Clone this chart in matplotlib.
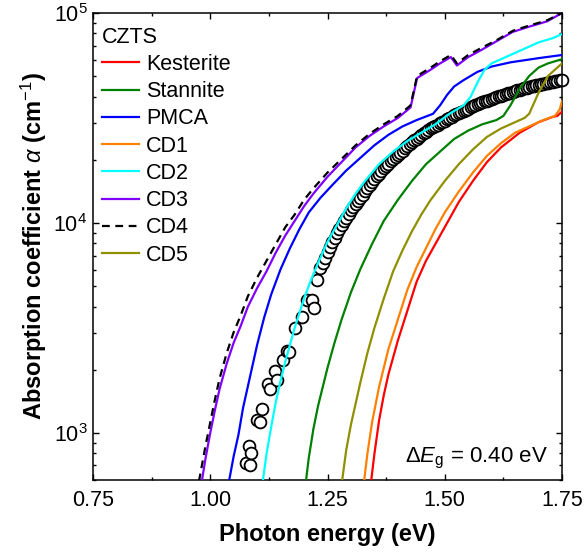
import numpy as np
import matplotlib.pyplot as plt
from matplotlib.ticker import MultipleLocator, LogLocator

plt.rcParams['font.family'] = ['Liberation Sans', 'DejaVu Sans']
plt.rcParams['mathtext.fontset'] = 'custom'
plt.rcParams['mathtext.rm'] = 'Liberation Sans'
plt.rcParams['mathtext.it'] = 'Liberation Sans:italic'
plt.rcParams['mathtext.bf'] = 'Liberation Sans:bold'

# values, alpha stored as log10(alpha / cm^-1)
kest_E = [1.343, 1.35, 1.36, 1.37, 1.38, 1.39, 1.40, 1.42, 1.44, 1.46, 1.48, 1.50, 1.53,
          1.56, 1.59, 1.62, 1.66, 1.70, 1.73, 1.74, 1.75]
kest_log = [2.77, 2.90, 3.06, 3.18, 3.28, 3.36, 3.44, 3.58, 3.72, 3.82, 3.90, 3.98, 4.10,
            4.20, 4.29, 4.36, 4.43, 4.48, 4.505, 4.51, 4.53]

stan_E = [1.204, 1.21, 1.22, 1.23, 1.24, 1.25, 1.265, 1.28, 1.30, 1.32, 1.345, 1.37, 1.40,
          1.43, 1.46, 1.49, 1.52, 1.55, 1.58, 1.61, 1.625, 1.64, 1.66, 1.68, 1.70, 1.72, 1.75]
stan_log = [2.77, 2.88, 3.02, 3.13, 3.22, 3.31, 3.43, 3.54, 3.67, 3.78, 3.90, 4.01, 4.11,
            4.20, 4.28, 4.34, 4.40, 4.44, 4.47, 4.49, 4.51, 4.56, 4.64, 4.70, 4.74, 4.76, 4.78]

pmca_E = [1.040, 1.05, 1.06, 1.07, 1.08, 1.09, 1.10, 1.115, 1.13, 1.15, 1.17, 1.19, 1.21,
          1.235, 1.26, 1.29, 1.32, 1.35, 1.38, 1.41, 1.44, 1.475, 1.49, 1.505, 1.52, 1.54,
          1.57, 1.60, 1.64, 1.70, 1.75]
pmca_log = [2.77, 2.89, 2.99, 3.12, 3.22, 3.32, 3.42, 3.55, 3.66, 3.78, 3.88, 3.97, 4.05,
            4.12, 4.18, 4.25, 4.31, 4.37, 4.42, 4.46, 4.49, 4.52, 4.56, 4.61, 4.65, 4.68,
            4.72, 4.745, 4.765, 4.785, 4.80]

cd1_E = [1.328, 1.335, 1.345, 1.36, 1.38, 1.40, 1.42, 1.44, 1.46, 1.48, 1.50, 1.53, 1.56,
         1.59, 1.62, 1.65, 1.68, 1.71, 1.735, 1.745, 1.75]
cd1_log = [2.77, 2.90, 3.05, 3.22, 3.40, 3.54, 3.68, 3.79, 3.88, 3.97, 4.05, 4.15, 4.24,
           4.32, 4.38, 4.43, 4.46, 4.49, 4.51, 4.54, 4.58]

cd2_E = [1.112, 1.12, 1.13, 1.14, 1.15, 1.16, 1.17, 1.18, 1.19, 1.20, 1.215, 1.23, 1.25,
         1.27, 1.29, 1.31, 1.33, 1.36, 1.39, 1.42, 1.45, 1.48, 1.51, 1.54, 1.555, 1.57,
         1.585, 1.60, 1.63, 1.66, 1.70, 1.73, 1.75]
cd2_log = [2.77, 2.90, 3.03, 3.15, 3.25, 3.34, 3.42, 3.50, 3.57, 3.64, 3.73, 3.81, 3.91,
           3.99, 4.07, 4.14, 4.20, 4.28, 4.34, 4.39, 4.43, 4.47, 4.52, 4.56, 4.60, 4.67,
           4.73, 4.76, 4.79, 4.82, 4.86, 4.88, 4.90]

cd3_E = [0.982, 0.99, 1.00, 1.01, 1.02, 1.035, 1.05, 1.065, 1.08, 1.10, 1.12, 1.14, 1.16,
         1.18, 1.20, 1.22, 1.25, 1.28, 1.31, 1.34, 1.37, 1.40, 1.427, 1.441, 1.47, 1.49,
         1.513, 1.526, 1.55, 1.575, 1.61, 1.645, 1.68, 1.718, 1.75]
cd3_log = [2.77, 2.88, 3.00, 3.11, 3.21, 3.33, 3.43, 3.51, 3.60, 3.69, 3.77, 3.86, 3.94,
           4.01, 4.08, 4.14, 4.22, 4.29, 4.36, 4.415, 4.46, 4.50, 4.55, 4.69, 4.73, 4.76,
           4.79, 4.75, 4.79, 4.82, 4.865, 4.91, 4.935, 4.96, 5.00]

cd4_E = [0.976, 0.99, 1.00, 1.01, 1.02, 1.035, 1.05, 1.065, 1.08, 1.10, 1.12, 1.14, 1.16,
         1.18, 1.20, 1.22, 1.25, 1.28, 1.31, 1.34, 1.37, 1.40, 1.427, 1.441, 1.47, 1.49,
         1.513, 1.526, 1.55, 1.575, 1.61, 1.645, 1.68, 1.718, 1.75]
cd4_log = [2.77, 2.94, 3.05, 3.16, 3.26, 3.38, 3.48, 3.56, 3.65, 3.74, 3.82, 3.90, 3.98,
           4.04, 4.11, 4.165, 4.24, 4.305, 4.37, 4.425, 4.47, 4.51, 4.56, 4.70, 4.74, 4.77,
           4.80, 4.76, 4.80, 4.83, 4.87, 4.915, 4.94, 4.965, 5.00]

cd5_E = [1.281, 1.29, 1.30, 1.31, 1.32, 1.335, 1.35, 1.37, 1.39, 1.41, 1.43, 1.45, 1.47,
         1.50, 1.53, 1.56, 1.59, 1.62, 1.65, 1.67, 1.68, 1.69, 1.70, 1.72, 1.74, 1.75]
cd5_log = [2.77, 2.92, 3.04, 3.14, 3.24, 3.38, 3.50, 3.64, 3.77, 3.87, 3.96, 4.04, 4.11,
           4.20, 4.28, 4.35, 4.41, 4.45, 4.48, 4.50, 4.52, 4.57, 4.62, 4.70, 4.74, 4.76]

# experiment (open circles)
exp_E = [1.076, 1.085, 1.083, 1.087, 1.100, 1.106, 1.110, 1.123, 1.127, 1.138, 1.142, 1.155,
         1.164, 1.168, 1.181, 1.196, 1.206, 1.217, 1.221, 1.228, 1.234,
         1.240, 1.245, 1.250, 1.255, 1.260, 1.265, 1.270, 1.275, 1.280, 1.285, 1.290, 1.295,
         1.300, 1.305, 1.310, 1.315, 1.320, 1.325, 1.330, 1.335, 1.340, 1.345, 1.350, 1.355,
         1.360, 1.365, 1.370, 1.375, 1.380, 1.385, 1.390, 1.395, 1.400, 1.405, 1.410, 1.415,
         1.420, 1.425, 1.430, 1.435, 1.440, 1.445, 1.450, 1.455, 1.460, 1.465, 1.470, 1.475,
         1.480, 1.485, 1.490, 1.495, 1.500, 1.505, 1.510, 1.515, 1.520, 1.525, 1.530, 1.535,
         1.540, 1.545, 1.550, 1.555, 1.560, 1.565, 1.570, 1.575, 1.580, 1.585, 1.590, 1.595,
         1.600, 1.605, 1.610, 1.615, 1.620, 1.625, 1.630, 1.635, 1.640, 1.645, 1.650, 1.655,
         1.660, 1.665, 1.670, 1.675, 1.680, 1.685, 1.690, 1.695, 1.700, 1.705, 1.710, 1.715,
         1.720, 1.725, 1.730, 1.735, 1.740, 1.745, 1.750]
exp_log = [2.857, 2.848, 2.938, 2.905, 3.062, 3.052, 3.114, 3.233, 3.210, 3.295, 3.252, 3.348,
           3.390, 3.386, 3.500, 3.550, 3.633, 3.633, 3.595, 3.729, 3.786,
           3.810, 3.835, 3.860, 3.885, 3.910, 3.930, 3.950, 3.970, 3.990, 4.008, 4.025, 4.043,
           4.060, 4.075, 4.090, 4.105, 4.120, 4.135, 4.150, 4.165, 4.180, 4.195, 4.210, 4.223,
           4.235, 4.248, 4.260, 4.270, 4.280, 4.293, 4.305, 4.315, 4.325, 4.335, 4.345, 4.355,
           4.365, 4.375, 4.385, 4.393, 4.400, 4.409, 4.418, 4.427, 4.435, 4.443, 4.450, 4.456,
           4.462, 4.469, 4.475, 4.482, 4.488, 4.494, 4.500, 4.506, 4.512, 4.518, 4.524, 4.530,
           4.535, 4.540, 4.545, 4.550, 4.555, 4.560, 4.565, 4.570, 4.574, 4.579, 4.583, 4.587,
           4.591, 4.595, 4.599, 4.603, 4.607, 4.611, 4.614, 4.618, 4.621, 4.625, 4.628, 4.631,
           4.634, 4.638, 4.641, 4.644, 4.647, 4.650, 4.652, 4.655, 4.658, 4.661, 4.663, 4.666,
           4.668, 4.671, 4.673, 4.675, 4.677, 4.679, 4.681]

labels = ['Kesterite', 'Stannite', 'PMCA', 'CD1', 'CD2', 'CD3', 'CD4', 'CD5']
xticks = [0.75, 1.00, 1.25, 1.50, 1.75]
xticklabels = ['0.75', '1.00', '1.25', '1.50', '1.75']

fig = plt.figure(figsize=(5.85, 5.55), dpi=100)
ax = fig.add_axes([93 / 585, 75 / 555, 469 / 585, 467 / 555])

ax.plot(exp_E, 10 ** np.array(exp_log), 'o', ms=8.5, mfc='white', mec='black', mew=1.3,
        zorder=2, clip_on=False)

curves = [
    (kest_E, kest_log, '#ff0000', '-'),
    (stan_E, stan_log, '#008000', '-'),
    (pmca_E, pmca_log, '#0000ff', '-'),
    (cd1_E, cd1_log, '#ff8000', '-'),
    (cd2_E, cd2_log, '#00ffff', '-'),
    (cd3_E, cd3_log, '#8000ff', '-'),
    (cd4_E, cd4_log, 'black', (0, (3.5, 2.5))),
    (cd5_E, cd5_log, '#8f8f00', '-'),
]
handles = []
for (E, lg, col, ls), lab in zip(curves, labels):
    h, = ax.plot(E, 10 ** np.array(lg), color=col, ls=ls, lw=1.6, label=lab, zorder=3)
    handles.append(h)

ax.set_yscale('log')
ax.set_xlim(0.75, 1.75)
ax.set_ylim(10 ** 2.776, 1e5)
ax.set_xticks(xticks)
ax.set_xticklabels(xticklabels)
ax.xaxis.set_minor_locator(MultipleLocator(0.125))
ax.yaxis.set_major_locator(LogLocator(base=10))
ax.yaxis.set_minor_locator(LogLocator(base=10, subs=np.arange(2, 10)))
ax.tick_params(which='both', direction='in', top=True, right=True, labelsize=15.5)
ax.tick_params(which='major', length=4.5, width=1)
ax.tick_params(which='minor', length=2.5, width=1)
ax.tick_params(axis='x', pad=7)
ax.tick_params(axis='y', pad=4)
for s in ax.spines.values():
    s.set_linewidth(1.1)

ax.set_xlabel('Photon energy (eV)', fontsize=17, fontweight='bold', labelpad=9)
ax.set_ylabel(r'Absorption coefficient $\alpha$ (cm$^{-1}$)', fontsize=17,
              fontweight='bold', labelpad=3)

ax.text(0.97, 0.02, r'$\Delta E_\mathrm{g}$ = 0.40 eV', transform=ax.transAxes,
        ha='right', va='bottom', fontsize=16)

leg = ax.legend(handles=handles, title='CZTS', loc='upper left', bbox_to_anchor=(0, 0.99),
                frameon=False, fontsize=15.5, title_fontsize=15.5, alignment='left',
                handlelength=1.7, handletextpad=0.35, labelspacing=0.29,
                borderaxespad=0.12, borderpad=0.3)

fig.savefig('out.png', dpi=100)
